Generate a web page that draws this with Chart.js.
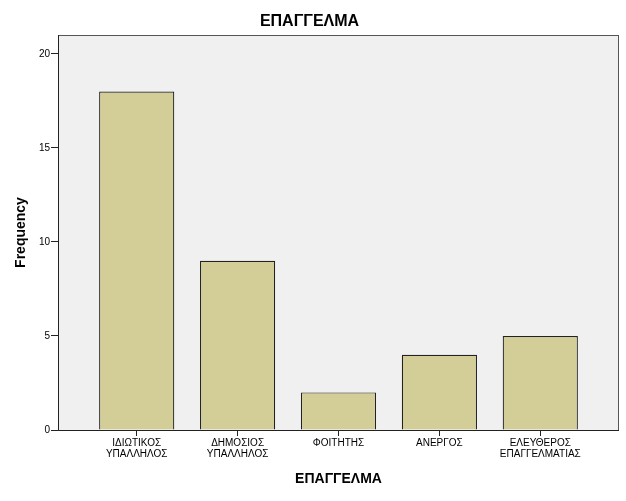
<!DOCTYPE html>
<html>
<head>
<meta charset="utf-8">
<script src="https://cdn.jsdelivr.net/npm/chart.js@4"></script>
<style>
  html, body { margin: 0; padding: 0; background: #fff; }
  #wrap { width: 626px; height: 501px; }
</style>
</head>
<body>
<div id="wrap"><canvas id="chart"></canvas></div>
<script>
// data
var categories = [
    ['ΙΔΙΩΤΙΚΟΣ', 'ΥΠΑΛΛΗΛΟΣ'],
    ['ΔΗΜΟΣΙΟΣ', 'ΥΠΑΛΛΗΛΟΣ'],
    ['ΦΟΙΤΗΤΗΣ'],
    ['ΑΝΕΡΓΟΣ'],
    ['ΕΛΕΥΘΕΡΟΣ', 'ΕΠΑΓΓΕΛΜΑΤΙΑΣ']
];
var frequency = [18, 9, 2, 4, 5];
var yTicks = [0, 5, 10, 15, 20];

var FONT = "'Liberation Sans', Arial, sans-serif";

// plot frame: grey fill behind, dark border around
var framePlugin = {
    id: 'frame',
    beforeDraw: function(chart) {
        var a = chart.chartArea, ctx = chart.ctx;
        ctx.save();
        ctx.fillStyle = '#f0f0f0';
        ctx.fillRect(a.left, a.top, a.right - a.left, a.bottom - a.top);
        ctx.restore();
    },
    afterDatasetsDraw: function(chart) {
        var a = chart.chartArea, ctx = chart.ctx;
        ctx.save();
        ctx.strokeStyle = '#555';
        ctx.lineWidth = 1;
        ctx.strokeRect(a.left + 0.5, a.top + 0.5, a.right - a.left - 1, a.bottom - a.top);
        ctx.strokeStyle = '#222';
        ctx.beginPath();
        ctx.moveTo(a.left + 0.5, a.top);
        ctx.lineTo(a.left + 0.5, a.bottom + 0.5);
        ctx.lineTo(a.right, a.bottom + 0.5);
        ctx.stroke();
        ctx.restore();
    }
};

var points = frequency.map(function(v, i) { return {x: i, y: v}; });

new Chart(document.getElementById('chart'), {
    type: 'bar',
    data: {
        datasets: [{
            data: points,
            backgroundColor: '#d3ce97',
            borderColor: '#222',
            borderWidth: 1.2,
            barPercentage: 0.745,
            categoryPercentage: 1.0
        }]
    },
    options: {
        responsive: true,
        maintainAspectRatio: false,
        animation: false,
        layout: { padding: { left: 0, right: 7, top: 0, bottom: 0 } },
        plugins: {
            legend: { display: false },
            tooltip: { enabled: false },
            title: {
                display: true,
                text: 'ΕΠΑΓΓΕΛΜΑ',
                color: '#000',
                font: { family: FONT, size: 16, weight: 'bold', lineHeight: 1.2 },
                padding: { top: 12, bottom: 3.8 }
            }
        },
        scales: {
            x: {
                type: 'linear',
                min: -0.78,
                max: 4.78,
                offset: false,
                afterBuildTicks: function(scale) {
                    scale.ticks = categories.map(function(c, i) { return {value: i}; });
                },
                afterFit: function(scale) { scale.height = 71; },
                ticks: {
                    autoSkip: false,
                    maxRotation: 0,
                    color: '#000',
                    padding: 2,
                    font: { family: FONT, size: 10, lineHeight: 1.1 },
                    callback: function(v) { return categories[v]; }
                },
                grid: {
                    offset: false,
                    drawOnChartArea: false,
                    drawTicks: true,
                    tickLength: 6,
                    color: '#222'
                },
                border: { display: false },
                title: {
                    display: true,
                    text: 'ΕΠΑΓΓΕΛΜΑ',
                    color: '#000',
                    font: { family: FONT, size: 14, weight: 'bold', lineHeight: 1.2 },
                    padding: { top: 4, bottom: 13.6 }
                }
            },
            y: {
                min: 0,
                max: 21,
                afterBuildTicks: function(scale) {
                    scale.ticks = yTicks.map(function(v) { return {value: v}; });
                },
                afterFit: function(scale) { scale.width = 58; },
                ticks: {
                    color: '#000',
                    padding: 1,
                    font: { family: FONT, size: 10 }
                },
                grid: {
                    drawOnChartArea: false,
                    drawTicks: true,
                    tickLength: 7,
                    color: '#222'
                },
                border: { display: false },
                title: {
                    display: true,
                    text: 'Frequency',
                    color: '#000',
                    font: { family: FONT, size: 14, weight: 'bold', lineHeight: 1.2 },
                    padding: { top: 13 }
                }
            }
        }
    },
    plugins: [framePlugin]
});
</script>
</body>
</html>
